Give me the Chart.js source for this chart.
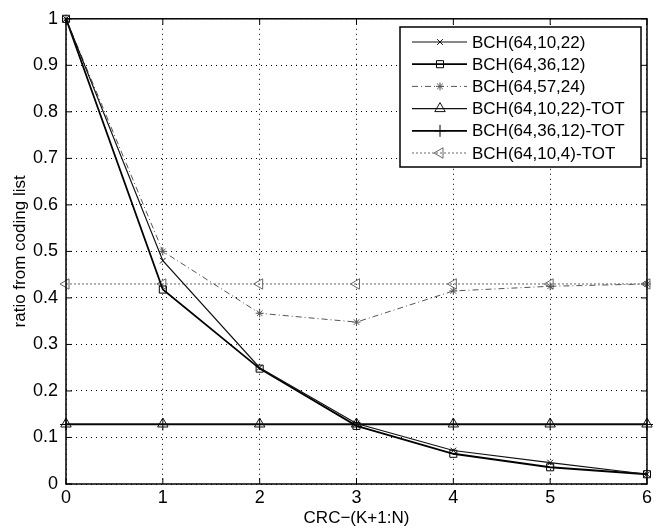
<!DOCTYPE html>
<html lang="en">
<head>
  <meta charset="UTF-8">
  <title>ratio from coding list</title>
  <script src="https://cdn.jsdelivr.net/npm/chart.js"></script>
  <style>
    html, body { margin: 0; padding: 0; background: #fff; }
    .chart-container { width: 655px; height: 529px; }
    canvas { display: block; }
  </style>
</head>
<body>

  <div class="chart-container">
    <canvas id="crcChart" width="655" height="529"></canvas>
  </div>

  <script>
    const xLabels = [0, 1, 2, 3, 4, 5, 6];
    const seriesNames = [
      "BCH(64,10,22)",
      "BCH(64,36,12)",
      "BCH(64,57,24)",
      "BCH(64,10,22)-TOT",
      "BCH(64,36,12)-TOT",
      "BCH(64,10,4)-TOT"
    ];
    const bch10_22 = [1, 0.48, 0.25, 0.13, 0.072, 0.046, 0.021];
    const bch36_12 = [1, 0.418, 0.248, 0.125, 0.065, 0.036, 0.021];
    const bch57_24 = [1, 0.50, 0.367, 0.348, 0.415, 0.425, 0.43];
    const bch10_22tot = [0.129, 0.129, 0.129, 0.129, 0.129, 0.129, 0.129];
    const bch36_12tot = [0.128, 0.128, 0.128, 0.128, 0.128, 0.128, 0.128];
    const bch10_4tot = [0.43, 0.43, 0.43, 0.43, 0.43, 0.43, 0.43];

    const seriesValues = [bch10_22, bch36_12, bch57_24, bch10_22tot, bch36_12tot, bch10_4tot];

    const styles = [
      { color: '#111', width: 1.2, dash: [], point: 'crossRot', radius: 4, rotation: 0 },
      { color: '#000', width: 1.8, dash: [], point: 'rect', radius: 5, rotation: 0 },
      { color: '#555', width: 1, dash: [6, 3, 1, 3], point: 'star', radius: 4, rotation: 0 },
      { color: '#111', width: 1.2, dash: [], point: 'triangle', radius: 6, rotation: 0 },
      { color: '#000', width: 1.8, dash: [], point: 'cross', radius: 6, rotation: 0 },
      { color: '#666', width: 1, dash: [2, 2], point: 'triangle', radius: 6, rotation: -90 }
    ];

    const FONT = "'Liberation Sans', Arial, Helvetica, sans-serif";

    // box, inward tick marks and the legend, MATLAB style
    const matlabFrame = {
      id: 'matlabFrame',
      afterDraw(chart) {
        const ctx = chart.ctx;
        const a = chart.chartArea;
        const xs = chart.scales.x, ys = chart.scales.y;
        ctx.save();
        ctx.strokeStyle = '#000';
        ctx.lineWidth = 1.5;
        ctx.setLineDash([]);
        ctx.strokeRect(a.left, a.top, a.right - a.left, a.bottom - a.top);
        ctx.lineWidth = 1;
        ctx.beginPath();
        xLabels.forEach(v => {
          const px = xs.getPixelForValue(v);
          ctx.moveTo(px, a.bottom); ctx.lineTo(px, a.bottom - 6);
          ctx.moveTo(px, a.top); ctx.lineTo(px, a.top + 6);
        });
        for (let i = 0; i <= 10; i++) {
          const py = ys.getPixelForValue(i / 10);
          ctx.moveTo(a.left, py); ctx.lineTo(a.left + 6, py);
          ctx.moveTo(a.right, py); ctx.lineTo(a.right - 6, py);
        }
        ctx.stroke();

        // legend
        const bx = 400, by = 27, bw = 241, bh = 140, rowH = 22.2;
        ctx.fillStyle = '#fff';
        ctx.fillRect(bx, by, bw, bh);
        ctx.lineWidth = 1.5;
        ctx.strokeStyle = '#000';
        ctx.strokeRect(bx, by, bw, bh);
        ctx.font = '17px ' + FONT;
        ctx.textBaseline = 'middle';
        ctx.textAlign = 'left';
        seriesNames.forEach((name, i) => {
          const s = styles[i];
          const y = by + 15 + i * rowH;
          ctx.strokeStyle = s.color;
          ctx.lineWidth = s.width;
          ctx.setLineDash(s.dash);
          ctx.beginPath();
          ctx.moveTo(412, y); ctx.lineTo(467, y);
          ctx.stroke();
          ctx.setLineDash([]);
          ctx.lineWidth = 1;
          ctx.fillStyle = 'rgba(255,255,255,0)';
          Chart.helpers.drawPoint(ctx, {
            pointStyle: s.point, radius: s.radius, rotation: s.rotation, borderWidth: 1
          }, 440, y);
          ctx.fillStyle = '#000';
          ctx.fillText(name, 472, y + 1);
        });
        ctx.restore();
      }
    };

    const datasets = seriesNames.map((name, i) => ({
      label: name,
      data: seriesValues[i],
      borderColor: styles[i].color,
      borderWidth: styles[i].width,
      borderDash: styles[i].dash,
      pointStyle: styles[i].point,
      pointRadius: styles[i].radius,
      pointRotation: styles[i].rotation,
      pointBorderColor: styles[i].color,
      pointBorderWidth: 1,
      pointBackgroundColor: 'rgba(0,0,0,0)',
      tension: 0,
      fill: false,
      clip: 8
    }));

    new Chart(document.getElementById('crcChart'), {
      type: 'line',
      data: { labels: xLabels, datasets: datasets },
      options: {
        responsive: false,
        animation: false,
        devicePixelRatio: 1,
        layout: { padding: { left: 10, right: 4, top: 18, bottom: 0 } },
        plugins: {
          legend: { display: false },
          tooltip: { enabled: false }
        },
        scales: {
          x: {
            type: 'linear',
            min: 0, max: 6,
            afterFit: s => { s.height = 45; },
            ticks: { stepSize: 1, color: '#000', font: { family: FONT, size: 18 }, padding: 3 },
            grid: { color: '#000', lineWidth: 1, drawTicks: false },
            border: { display: false, dash: [1, 4] },
            title: { display: true, text: 'CRC\u2212(K+1:N)', color: '#000', font: { family: FONT, size: 17 }, padding: { top: 0, bottom: 0 } }
          },
          y: {
            min: 0, max: 1,
            afterFit: s => { s.width = 56; },
            ticks: { stepSize: 0.1, color: '#000', font: { family: FONT, size: 18 }, padding: 8,
              autoSkip: false,
              callback: v => String(Math.round(v * 10) / 10) },
            grid: { color: '#000', lineWidth: 1, drawTicks: false },
            border: { display: false, dash: [1, 4] },
            title: { display: true, text: 'ratio from coding list', color: '#000', font: { family: FONT, size: 17 }, padding: { top: 0, bottom: 4 } }
          }
        }
      },
      plugins: [matlabFrame]
    });
  </script>

</body>
</html>
